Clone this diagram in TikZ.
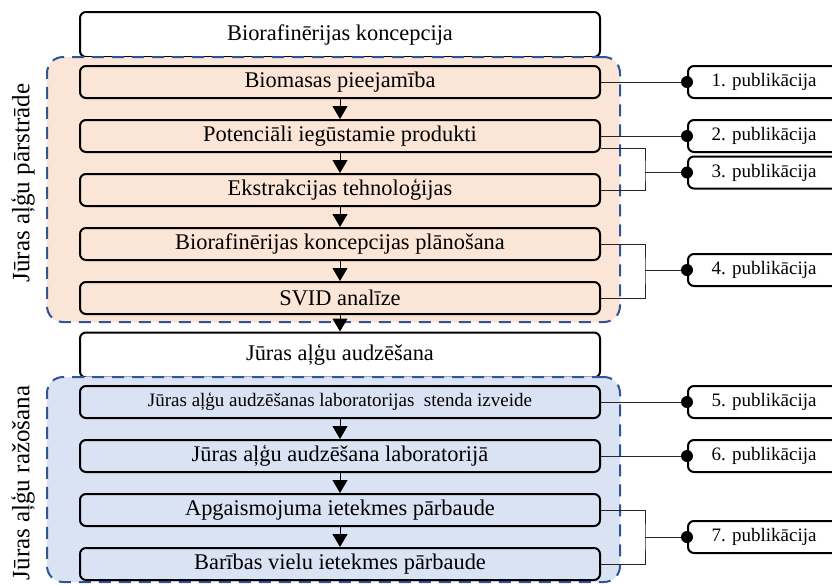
\documentclass[tikz,border=0pt]{standalone}
\usepackage{fontspec}
\setmainfont{Liberation Serif}
\usetikzlibrary{arrows.meta,positioning}
\definecolor{orbg}{HTML}{FBE5D6}
\definecolor{blbg}{HTML}{DAE3F3}
\definecolor{dashblue}{HTML}{2F5597}

\begin{document}
\begin{tikzpicture}[x=0.5pt,y=-0.5pt,
   box/.style={draw,line width=1pt,rounded corners=3pt,minimum width=260pt,minimum height=16pt,inner sep=0pt,font=\fontsize{11.2}{13}\selectfont},
   head/.style={box,fill=white,minimum height=22.5pt},
   zone/.style={draw=dashblue,line width=1pt,dash pattern=on 6pt off 4pt,rounded corners=8pt,minimum width=286.5pt,inner sep=0pt},
   pub/.style={draw,line width=1pt,rounded corners=3pt,fill=white,minimum width=76pt,minimum height=16pt,inner sep=0pt,font=\fontsize{9.5}{11}\selectfont},
   dot/.style={circle,fill=black,minimum size=6pt,inner sep=0pt},
   arr/.style={-{Triangle[width=7.5pt,length=6.5pt]},line width=0.5pt},
   link/.style={line width=0.5pt,black!85}]
   \useasboundingbox (0,0) rectangle (832,585);
   % upper part
   \node[head] (h1) at (340,34.5) {Biorafinērijas koncepcija};
   \node[zone,fill=orbg,minimum height=132.5pt] (z1) at (333.5,189.5) {};
   \foreach \pos/\name/\disp in {{(340,82)/b1/Biomasas pieejamība}, {(340,136)/b2/Potenciāli iegūstamie produkti}, {(340,190)/b3/Ekstrakcijas tehnoloģijas}, {(340,244)/b4/Biorafinērijas koncepcijas plānošana}, {(340,298)/b5/SVID analīze}}
   \node[box,fill=orbg] (\name) at \pos {\disp};
   \node[rotate=90,font=\fontsize{12.5}{14}\selectfont] (lab1) at (23,183) {Jūras aļģu pārstrāde};
   % lower part
   \node[head] (h2) at (340,355) {Jūras aļģu audzēšana};
   \node[zone,fill=blbg,minimum height=102.5pt] (z2) at (333.5,479.5) {};
   \foreach \pos/\name/\disp in {{(340,456)/c2/Jūras aļģu audzēšana laboratorijā}, {(340,510)/c3/Apgaismojuma ietekmes pārbaude}, {(340,564)/c4/Barības vielu ietekmes pārbaude}}
   \node[box,fill=blbg] (\name) at \pos {\disp};
   \node[box,fill=blbg,font=\fontsize{9.5}{11}\selectfont] (c1) at (340,402) {Jūras aļģu audzēšanas laboratorijas\enspace stenda izveide};
   \node[rotate=90,font=\fontsize{12.5}{14}\selectfont] (lab2) at (23,483) {Jūras aļģu ražošana};
   \foreach \source/ \dest in {b1/b2, b2/b3, b3/b4, b4/b5, b5/h2, c1/c2, c2/c3, c3/c4} % flow arrows
   \draw[arr] (\source) -- (\dest);
   % publications
   \foreach \y/\name/\num in {82/p1/1, 136/p2/2, 172.5/p3/3, 270/p4/4, 402/p5/5, 456/p6/6, 537/p7/7}
   \node[pub] (\name) at (764,\y) {\num. publikācija};
   \coordinate (k3) at (645,172.5);
   \coordinate (k4) at (645,270);
   \coordinate (k7) at (645,537);
   \foreach \source/ \dest in {b1/p1, b2/p2, c1/p5, c2/p6}
   \draw[link] (\source.east) -- (\dest.west);
   \draw[link] ([yshift=-6pt]b2.east) -| (k3) |- (b3.east);
   \draw[link] (b4.east) -| (k4) |- (b5.east);
   \draw[link] (c3.east) -| (k7) |- (c4.east);
   \foreach \k/\p in {k3/p3, k4/p4, k7/p7}
   \draw[link] (\k) -- (\p.west);
   \foreach \name in {p1,p2,p3,p4,p5,p6,p7}
   \node[dot] (\name d) at (\name.west) {};
\end{tikzpicture}
\end{document}
